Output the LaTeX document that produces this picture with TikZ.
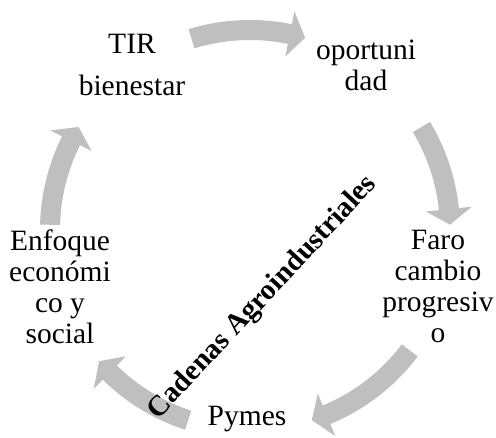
\documentclass[tikz,border=0pt]{standalone}
\usepackage{fontspec}
\setmainfont{Liberation Serif}
\usepackage{xcolor}
\definecolor{cyclegrey}{HTML}{BFBFBF}
\usepackage{tikz}

\begin{document}
\begin{tikzpicture}[every node/.style={font=\fontsize{29.5}{31}\selectfont, align=center, inner sep=0pt}]
  \useasboundingbox (-250pt,-208pt) rectangle (246pt,230pt);
  % Arrows
  \foreach \a/\b in {107/74, 31/1.5, -37/-72, -108/-139, 178.5/149}{
    \pgfmathsetmacro{\hb}{\b+4.5}
    \fill[cyclegrey] (\a:190pt) arc[start angle=\a, end angle=\hb, radius=190pt]
      -- (\hb:177pt) -- (\b:200pt) -- (\hb:223pt) -- (\hb:210pt)
      arc[start angle=\hb, end angle=\a, radius=210pt] -- cycle;
  }
  % Steps
  \node (tir) at (-118pt,165.5pt) {TIR\\[11pt]bienestar};
  \node (oport) at (116pt,165pt) {oportuni\\dad};
  \node (faro) at (188pt,-56.5pt) {Faro\\cambio\\progresiv\\o};
  \node (pymes) at (-3pt,-189.5pt) {Pymes};
  \node (enfoque) at (-190pt,-57pt) {Enfoque\\económi\\co y\\social};
  % Centre label
  \node[font=\fontsize{29}{31}\selectfont\bfseries, rotate=47] (cadenas) at (13pt,-68pt) {Cadenas Agroindustriales};
\end{tikzpicture}
\end{document}
